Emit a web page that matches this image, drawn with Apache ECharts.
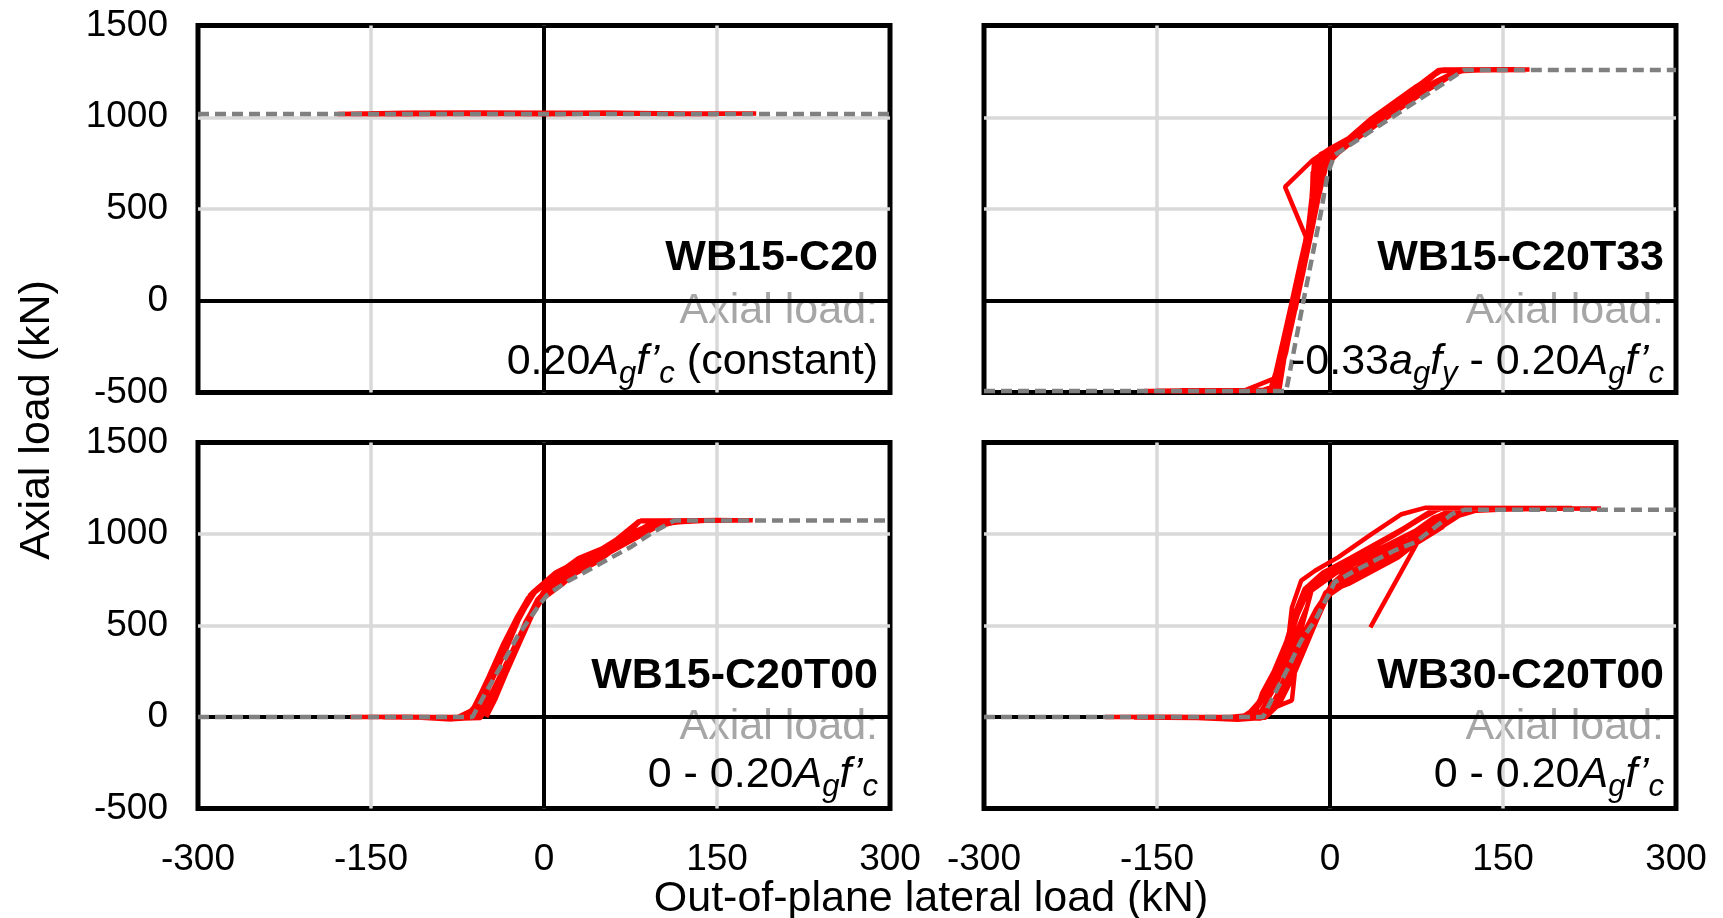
<!DOCTYPE html>
<html>
<head>
<meta charset="utf-8">
<script src="https://cdn.jsdelivr.net/npm/echarts@6/dist/echarts.min.js"></script>
<style>
html,body{margin:0;padding:0;background:#fff;}
#chart{width:1723px;height:918px;}
</style>
</head>
<body>
<div id="chart"></div>
<script>
// ---------- data ----------
const xTickLabels = ['-300', '-150', '0', '150', '300'];
const yTickLabels = ['-500', '0', '500', '1000', '1500'];
const panelNames = ['WB15-C20', 'WB15-C20T33', 'WB15-C20T00', 'WB30-C20T00'];
const xTitle = 'Out-of-plane lateral load (kN)';
const yTitle = 'Axial load (kN)';

// target (grey dashed) relationships
const targetC20 = [[-300, 1018], [300, 1018]];
const targetC20T33 = [[-300, -492], [-38, -492], [-23, 0], [-8, 476], [-2, 694], [4, 794], [116, 1257], [300, 1257]];
const targetC20T00 = [[-300, 0], [-62, 0], [-49, 151], [-34, 314], [-23, 441], [-11, 550], [-4, 614], [3, 668], [18, 732], [47, 832], [76, 932], [93, 1004], [113, 1074], [300, 1074]];
const targetWB30 = [[-300, 0], [-58, 0], [-48, 127], [-36, 272], [-25, 418], [-13, 527], [-1, 672], [4, 736], [22, 801], [39, 856], [56, 910], [74, 955], [91, 1037], [106, 1110], [117, 1133], [300, 1133]];

// measured (red) paths
const testC20 = [[0, 1022], [60, 1024], [120, 1021], [184, 1020], [120, 1018], [52, 1020], [0, 1017], [-60, 1019], [-120, 1016], [-179, 1018], [-120, 1024], [-60, 1026], [0, 1025], [52, 1024], [100, 1020], [150, 1017], [120, 1018], [52, 1021], [0, 1021], [-80, 1023], [-150, 1022], [-100, 1020], [-40, 1018], [20, 1019]];

const testC20T33 = [
  [0, 790], [12, 840], [25, 900], [12, 850], [0, 790], [-8, 700], [-14, 500], [-20, 300], [-26, 100], [-30, -50], [-22, 200], [-14, 450], [-6, 680], [0, 790],
  [20, 880], [40, 960], [55, 1040], [40, 990], [20, 900], [0, 800], [-10, 650], [-17, 420], [-24, 200], [-32, -20], [-38, -250], [-44, -490], [-55, -490], [-45, -480], [-36, -200], [-28, 50], [-20, 300], [-14, 560], [-10, 720], [-4, 790], [8, 835],
  [30, 920], [60, 1080], [80, 1170], [95, 1253], [110, 1258], [96, 1250], [75, 1170], [55, 1080], [35, 990], [15, 880], [2, 795], [-8, 660], [-16, 440], [-25, 150], [-35, -150], [-45, -490], [-80, -492], [-110, -490], [-90, -488], [-50, -485], [-40, -300], [-32, -50], [-24, 200], [-21, 349], [-39, 621], [-15, 767], [0, 830],
  [20, 900], [40, 1000], [60, 1100], [80, 1190], [94, 1258], [130, 1260], [173, 1260], [140, 1258], [110, 1252], [90, 1190], [65, 1080], [40, 965], [15, 860], [4, 800], [-4, 720], [-12, 520], [-20, 280], [-28, 40], [-38, -280], [-48, -492], [-100, -490], [-161, -492], [-120, -494], [-60, -490], [-50, -470], [-42, -250], [-33, 0], [-26, 200], [-18, 420], [-13, 650], [-12, 760], [0, 810], [8, 840],
  [25, 920], [45, 1010], [70, 1130], [92, 1240], [100, 1260], [170, 1258], [130, 1256], [112, 1250], [85, 1150], [55, 1030], [30, 920], [8, 810], [-3, 740], [-10, 560], [-17, 340], [-24, 130], [-33, -130], [-42, -380], [-46, -490], [-150, -490], [-100, -488], [-52, -488], [-45, -350], [-36, -100], [-27, 120], [-20, 340], [-16, 560], [-14, 740], [-8, 800], [5, 840],
  [22, 905], [48, 1030], [72, 1140], [88, 1220], [98, 1260], [160, 1261], [120, 1259], [105, 1235], [80, 1130], [50, 1000], [25, 890], [6, 805], [-6, 700], [-13, 480], [-21, 250], [-30, 0], [-40, -320], [-50, -490], [-130, -489], [-75, -491], [-47, -420], [-38, -160], [-30, 80], [-23, 280], [-16, 470], [-15, 700], [-2, 800],
  [18, 880], [35, 950], [58, 1060], [84, 1200], [96, 1259], [150, 1260], [115, 1255], [98, 1210], [70, 1100], [45, 990], [20, 870], [5, 800], [-5, 720], [-11, 600], [-18, 380], [-27, 120], [-36, -180], [-44, -450], [-47, -492], [-90, -492]
];

const testC20T00 = [
  [0, 650], [15, 720], [30, 800], [15, 740], [0, 660], [-10, 560], [-20, 420], [-32, 250], [-42, 100], [-50, 0], [-40, 130], [-28, 330], [-16, 520], [-6, 630], [0, 660],
  [20, 760], [45, 860], [65, 950], [45, 880], [20, 780], [0, 670], [-14, 520], [-26, 360], [-40, 160], [-55, -5], [-70, -8], [-58, 20], [-45, 200], [-32, 380], [-20, 560], [-12, 668], [4, 750], [30, 868], [50, 920], [76, 1023], [84, 1074], [110, 1074], [95, 1040], [70, 960], [47, 850], [20, 760], [2, 680], [-10, 570], [-22, 420], [-36, 240], [-50, 60], [-60, -5], [-110, -3], [-80, -13], [-62, -5], [-55, 90], [-42, 250], [-30, 420], [-18, 600], [-10, 680], [10, 790], [35, 870], [55, 930], [82, 1070], [150, 1076], [181, 1074], [140, 1072], [105, 1060], [80, 990], [50, 880], [25, 790], [5, 700], [-8, 600], [-20, 440], [-34, 270], [-48, 100], [-58, 0], [-168, 0], [-120, 2], [-75, -2], [-62, 40], [-50, 190], [-40, 330], [-28, 460], [-16, 600], [-8, 680], [8, 760], [40, 880], [70, 990], [95, 1060], [100, 1074], [181, 1075],
  [130, 1073], [102, 1055], [78, 975], [52, 895], [28, 815], [8, 735], [-6, 640], [-17, 500], [-30, 330], [-44, 150], [-56, 10], [-66, -4], [-140, -1], [-90, -4], [-68, 0], [-60, 60], [-48, 220], [-36, 390], [-24, 540], [-14, 650], [0, 720], [22, 800], [45, 880], [68, 970], [90, 1050], [96, 1074], [170, 1075],
  [120, 1072], [98, 1040], [72, 950], [46, 860], [18, 770], [0, 690], [-12, 560], [-24, 400], [-38, 210], [-52, 40], [-62, -2], [-120, 0]
];

const testWB30 = [
  [0, 700], [15, 760], [30, 820], [15, 780], [0, 710], [-10, 600], [-22, 440], [-34, 270], [-46, 100], [-56, 0], [-46, 120], [-34, 300], [-22, 470], [-12, 590], [0, 700],
  [20, 800], [45, 900], [65, 980], [45, 920], [20, 830], [2, 730], [-12, 580], [-26, 380], [-40, 180], [-55, 20], [-70, -10], [-60, 30], [-48, 160], [-36, 330], [-24, 500], [-16, 690], [4, 781], [45, 926], [74, 1017], [90, 1090], [110, 1135], [140, 1138], [110, 1120], [97, 1080], [74, 990], [45, 890], [16, 770], [0, 700], [-12, 560], [-25, 380], [-38, 210], [-52, 50], [-65, -5], [-130, -2], [-80, -15], [-66, -8],
  [-59, 129], [-42, 327], [-36, 436], [-33, 599], [-25, 745], [-13, 799], [7, 872], [36, 999], [62, 1108], [83, 1144], [180, 1142], [235, 1140], [190, 1138], [120, 1130], [108, 1108], [97, 1035], [74, 945], [59, 872], [16, 727], [1, 690], [-10, 580], [-20, 450], [-30, 272], [-33, 91], [-54, 36], [-62, 0], [-195, 0], [-140, 2], [-90, -2], [-75, 5],
  [-62, 60], [-48, 200], [-38, 340], [-28, 480], [-20, 600], [-16, 690], [4, 781], [45, 926], [74, 1017], [97, 1108], [105, 1130], [200, 1140], [150, 1138], [115, 1125], [100, 1060],
  [85, 1000], [60, 905], [30, 800], [8, 730], [-5, 640], [-15, 500], [-25, 340], [-36, 190], [-48, 50], [-60, -8], [-170, -3], [-110, 0], [-78, -10], [-68, 20], [-56, 110], [-45, 260], [-38, 410], [-31, 560], [-22, 700], [-6, 790], [18, 870], [48, 975], [72, 1060], [88, 1120], [98, 1142], [210, 1142], [160, 1136], [118, 1124], [104, 1085], [82, 985], [55, 880], [25, 770], [6, 715], [-6, 620], [-18, 470], [-28, 310], [-40, 150], [-52, 30], [-64, -6], [-150, -2], [-95, -5], [-72, 10], [-62, 80], [-50, 230], [-40, 380], [-30, 540], [-20, 680], [-2, 770], [30, 900], [60, 1010], [80, 1090], [92, 1140], [190, 1141], [140, 1136], [110, 1115],
  [92, 1050], [68, 950], [40, 850], [12, 750], [-4, 680], [-14, 540], [-24, 380], [-34, 230], [-46, 80], [-58, 0], [-120, -1], [-84, -6], [-70, 15], [-58, 100], [-46, 250], [-36, 400], [-28, 560], [-18, 700], [0, 790], [25, 885], [55, 990], [78, 1080], [95, 1138], [150, 1140], [125, 1132], [112, 1110], [95, 1030], [70, 930], [42, 830], [14, 730], [-2, 660], [-12, 520],
  [-22, 370], [-32, 220], [-44, 70], [-56, -4], [-100, -2],
  [-74, -4], [-64, 40], [-52, 180], [-42, 330], [-34, 480], [-26, 620], [-14, 740], [10, 830], [40, 940], [66, 1040], [86, 1120], [96, 1140], [170, 1141], [130, 1134], [112, 1100], [90, 1010], [62, 915], [35, 820], [10, 740], [75, 945], [35, 490]
];

const targets = [targetC20, targetC20T33, targetC20T00, targetWB30];
const tests = [testC20, testC20T33, testC20T00, testWB30];

// ---------- layout ----------
const FONT = 'Liberation Sans, Arial, sans-serif';
const gridPos = [
  {left: 198, top: 25.5, width: 692, height: 367},
  {left: 984, top: 25.5, width: 692, height: 367},
  {left: 198, top: 442.5, width: 692, height: 366},
  {left: 984, top: 442.5, width: 692, height: 366}
];

const chart = echarts.init(document.getElementById('chart'), null, {renderer: 'canvas'});

const grids = gridPos.map(g => Object.assign({show: true, borderColor: '#000', borderWidth: 5, backgroundColor: 'transparent', containLabel: false}, g));

const xAxes = gridPos.map((g, i) => ({
  type: 'value', gridIndex: i, min: -300, max: 300, interval: 150,
  axisLine: {show: false}, axisTick: {show: false},
  axisLabel: {show: i >= 2, fontSize: 37, color: '#000', fontFamily: FONT, margin: 33,
    formatter: v => xTickLabels[Math.round((v + 300) / 150)]},
  splitLine: {show: true, showMinLine: false, showMaxLine: false, lineStyle: {color: '#d9d9d9', width: 3.5}}
}));
const yAxes = gridPos.map((g, i) => ({
  type: 'value', gridIndex: i, min: -500, max: 1500, interval: 500,
  axisLine: {show: false}, axisTick: {show: false},
  axisLabel: {show: i % 2 === 0, fontSize: 37, color: '#000', fontFamily: FONT, margin: 30,
    formatter: v => yTickLabels[Math.round((v + 500) / 500)]},
  splitLine: {show: true, showMinLine: false, showMaxLine: false, lineStyle: {color: '#d9d9d9', width: 3.5}}
}));

const series = [];
for (let i = 0; i < 4; i++) {
  series.push({
    type: 'line', xAxisIndex: i, yAxisIndex: i, data: tests[i],
    showSymbol: false, symbol: 'none', z: 2, silent: true,
    lineStyle: {color: '#ff0000', width: 4.5}
  });
  series.push({
    type: 'line', xAxisIndex: i, yAxisIndex: i, data: targets[i],
    showSymbol: false, symbol: 'none', z: 3, silent: true,
    lineStyle: {color: '#808080', width: 4.5, type: [11, 6]},
    markLine: {
      silent: true, symbol: 'none', z: 1, animation: false,
      label: {show: false},
      lineStyle: {color: '#000', width: 4, type: 'solid'},
      data: [{xAxis: 0}, {yAxis: 0}]
    }
  });
}

// ---------- annotation text ----------
const richStyles = {
  n: {fontSize: 43, fontFamily: FONT, fill: '#000', verticalAlign: 'top'},
  i: {fontSize: 43, fontFamily: FONT, fontStyle: 'italic', fill: '#000', verticalAlign: 'top'},
  s: {fontSize: 31, fontFamily: FONT, fontStyle: 'italic', fill: '#000', verticalAlign: 'top', padding: [18, 0, 0, 0]}
};
const formulas = [
  '{n|0.20}{i|A}{s|g}{i|f’}{s|c}{n| (constant)}',
  '{n|-0.33}{i|a}{s|g}{i|f}{s|y}{n| - 0.20}{i|A}{s|g}{i|f’}{s|c}',
  '{n|0 - 0.20}{i|A}{s|g}{i|f’}{s|c}',
  '{n|0 - 0.20}{i|A}{s|g}{i|f’}{s|c}'
];
const rightX = [878, 1664, 878, 1664];
const line1Y = [258, 258, 676, 676];
const line2Y = [311, 311, 727, 727];
const line3Y = [341, 341, 754, 754];
const graphics = [];
for (let i = 0; i < 4; i++) {
  graphics.push({type: 'text', z: 10, style: {text: panelNames[i], x: rightX[i], y: line1Y[i],
    fontSize: 43, fontWeight: 'bold', fontFamily: FONT, fill: '#000', textAlign: 'right', textVerticalAlign: 'middle'}});
  graphics.push({type: 'text', z: 0, style: {text: 'Axial load:', x: rightX[i], y: line2Y[i],
    fontSize: 43, fontFamily: FONT, fill: '#a6a6a6', textAlign: 'right', textVerticalAlign: 'middle'}});
  graphics.push({type: 'text', z: 10, style: {text: formulas[i], x: rightX[i], y: line3Y[i],
    fontSize: 43, fontFamily: FONT, fill: '#000', textAlign: 'right', textVerticalAlign: 'top', rich: richStyles}});
}
graphics.push({type: 'text', z: 10, x: 37, y: 420, rotation: Math.PI / 2,
  style: {text: yTitle, x: 0, y: 0, fontSize: 43, fontFamily: FONT, fill: '#000', textAlign: 'center', textVerticalAlign: 'middle'}});
graphics.push({type: 'text', z: 10, style: {text: xTitle, x: 931, y: 899,
  fontSize: 43, fontFamily: FONT, fill: '#000', textAlign: 'center', textVerticalAlign: 'middle'}});

chart.setOption({
  animation: false,
  backgroundColor: '#fff',
  grid: grids,
  xAxis: xAxes,
  yAxis: yAxes,
  series: series,
  graphic: graphics
});
</script>
</body>
</html>
